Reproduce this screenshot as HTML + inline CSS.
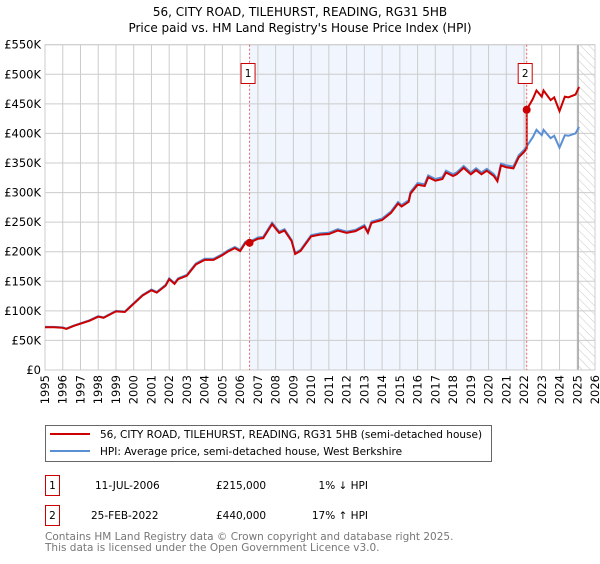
<!DOCTYPE html>
<html><head><meta charset="utf-8"><style>
body{margin:0;background:#fff;width:600px;height:560px;overflow:hidden;font-family:"DejaVu Sans","Liberation Sans",sans-serif;}
svg text{font-family:"DejaVu Sans","Liberation Sans",sans-serif;}
</style></head><body>
<svg id="c" width="600" height="560" xmlns="http://www.w3.org/2000/svg">
<defs><pattern id="hatch" width="6" height="6" patternUnits="userSpaceOnUse" patternTransform="rotate(-45)"><line x1="0" y1="0" x2="0" y2="6" stroke="#bbb" stroke-width="0.8"/></pattern></defs>
<text x="300" y="16" text-anchor="middle" font-size="12">56, CITY ROAD, TILEHURST, READING, RG31 5HB</text>
<text x="300" y="32" text-anchor="middle" font-size="12">Price paid vs. HM Land Registry's House Price Index (HPI)</text>
<g id="plot"></g>
<g>
<rect x="45.5" y="425.5" width="446" height="36" fill="#fff" stroke="#666"/>
<line x1="50" y1="434" x2="90" y2="434" stroke="#cc0000" stroke-width="2"/>
<text x="100" y="438" font-size="10.5">56, CITY ROAD, TILEHURST, READING, RG31 5HB (semi-detached house)</text>
<line x1="50" y1="451" x2="90" y2="451" stroke="#5b8fd4" stroke-width="2"/>
<text x="100" y="455" font-size="10.5">HPI: Average price, semi-detached house, West Berkshire</text>
</g>
<g font-size="10.5">
<rect x="45.5" y="475.5" width="14" height="20" fill="#fff" stroke="#cc0000"/>
<text x="52.5" y="489" text-anchor="middle">1</text>
<text x="95" y="489">11-JUL-2006</text><text x="216" y="489">£215,000</text><text x="368" y="489" text-anchor="end">1% ↓ HPI</text>
<rect x="45.5" y="505.5" width="14" height="20" fill="#fff" stroke="#cc0000"/>
<text x="52.5" y="519" text-anchor="middle">2</text>
<text x="91" y="519">25-FEB-2022</text><text x="216" y="519">£440,000</text><text x="368" y="519" text-anchor="end">17% ↑ HPI</text>
</g>
<text x="45" y="540" font-size="10.5" fill="#777">Contains HM Land Registry data © Crown copyright and database right 2025.</text>
<text x="45" y="551" font-size="10.5" fill="#777">This data is licensed under the Open Government Licence v3.0.</text>
</svg>
<script>
const hpiYears=[1995,1995.5,1996,1996.2,1996.6,1997,1997.5,1998,1998.3,1999,1999.5,2000,2000.5,2001,2001.3,2001.8,2002,2002.3,2002.5,2003,2003.5,2004,2004.5,2005,2005.3,2005.7,2006,2006.3,2006.53,2007,2007.3,2007.8,2008.2,2008.5,2008.9,2009.1,2009.4,2010,2010.5,2011,2011.5,2012,2012.5,2013,2013.2,2013.4,2014,2014.5,2014.9,2015.1,2015.5,2015.6,2016,2016.4,2016.6,2017,2017.4,2017.6,2018,2018.2,2018.6,2019,2019.3,2019.6,2019.9,2020.3,2020.5,2020.7,2021,2021.4,2021.7,2022,2022.15,2022.5,2022.7,2023,2023.1,2023.5,2023.7,2024,2024.3,2024.5,2024.9,2025.1];
const hpiValues=[73,73,72,70,75,79,84,91,89,100,99,113,127,136,132,144,155,147,155,161,180,188,188,196,202,208,203,217,217,224,225,249,234,238,220,198,203,228,231,232,238,234,237,245,234,251,256,268,284,279,287,301,316,314,329,323,326,337,331,334,345,334,341,334,340,331,322,349,346,344,363,372,378,394,406,397,406,392,396,376,397,396,400,411];
const saleYears=[2006.53,2022.15];
const salePrices=[215,440];
const saleLabels=["1","2"];
const yTicks=[0,50,100,150,200,250,300,350,400,450,500,550];
const yTickLabels=["£0","£50K","£100K","£150K","£200K","£250K","£300K","£350K","£400K","£450K","£500K","£550K"];
const xTicks=[1995,1996,1997,1998,1999,2000,2001,2002,2003,2004,2005,2006,2007,2008,2009,2010,2011,2012,2013,2014,2015,2016,2017,2018,2019,2020,2021,2022,2023,2024,2025,2026];
const L=45,R=595,T=44.7,B=370,X0=1995,X1=2026,YMAX=550;
const x=v=>L+(v-X0)/(X1-X0)*(R-L);
const y=v=>B-v/YMAX*(B-T);
const NS="http://www.w3.org/2000/svg";
const g=document.getElementById('plot');
function mk(t,a,p){const e=document.createElementNS(NS,t);for(const k in a)e.setAttribute(k,a[k]);(p||g).appendChild(e);return e;}
let e;
e=mk('rect',{x:x(saleYears[0]),y:T,width:x(saleYears[1])-x(saleYears[0]),height:B-T,fill:'#eef2fc',opacity:0.8});


e=mk('rect',{x:x(2025),y:T,width:R-x(2025),height:B-T,fill:'url(#hatch)'});


yTicks.forEach((v,i)=>{
 e=mk('line',{x1:L,x2:R,y1:y(v),y2:y(v),stroke:'#ccc','stroke-width':1});
 
 
 e=mk('text',{x:L-4,y:y(v)+4,'text-anchor':'end','font-size':'11.5'});e.textContent=yTickLabels[i];
 
 
});
xTicks.forEach(v=>{
 e=mk('line',{x1:x(v),x2:x(v),y1:T,y2:B,stroke:'#ccc','stroke-width':1});
 
 
 e=mk('text',{x:0,y:0,'text-anchor':'end','font-size':'11.5',transform:`translate(${x(v)+4},${B+5}) rotate(-90)`});e.textContent=v;
 
 
});
e=mk('line',{x1:x(2025.05),x2:x(2025.05),y1:T,y2:B,stroke:'#999','stroke-width':1.2});


e=mk('rect',{x:L,y:T,width:R-L,height:B-T,fill:'none',stroke:'#ccc'});


function interp(t){for(let i=1;i<hpiYears.length;i++)if(t<=hpiYears[i]){const f=(t-hpiYears[i-1])/(hpiYears[i]-hpiYears[i-1]);return hpiValues[i-1]+f*(hpiValues[i]-hpiValues[i-1]);}return hpiValues[hpiValues.length-1];}
const hp=hpiYears.map((t,i)=>x(t)+','+y(hpiValues[i])).join(' ');
e=mk('polyline',{points:hp,fill:'none',stroke:'#5b8fd4','stroke-width':2});


// property line: HPI scaled to most recent sale
const r0=salePrices[0]/interp(saleYears[0]),r1=salePrices[1]/interp(saleYears[1]);
const pts=[];
hpiYears.forEach((t,i)=>{
 if(t<saleYears[1]){pts.push(x(t)+','+y(hpiValues[i]*r0));}
 else{ if(!pts.done){pts.push(x(saleYears[1])+','+y(interp(saleYears[1])*r0));pts.push(x(saleYears[1])+','+y(salePrices[1]));pts.done=1;}
  if(t>saleYears[1])pts.push(x(t)+','+y(hpiValues[i]*r1));}
});
e=mk('polyline',{points:pts.join(' '),fill:'none',stroke:'#cc0000','stroke-width':2});


saleYears.forEach((t,i)=>{
 e=mk('line',{x1:x(t),x2:x(t),y1:T,y2:B,stroke:'#e06666','stroke-width':1,'stroke-dasharray':'2,2'});
 
 
 e=mk('circle',{cx:x(t),cy:y(salePrices[i]),r:4,fill:'#cc0000'});
 
 
 e=mk('rect',{x:x(t)-22+0.5-(i?0:0),y:63.5,width:14,height:20,fill:'#fff',stroke:'#cc0000'});
 e.setAttribute('x',x(t)-8.5);
 
 
 e=mk('text',{x:x(t)-1.5,y:77,'text-anchor':'middle','font-size':'10.5'});e.textContent=saleLabels[i];
 
 
});
</script>
</body></html>
